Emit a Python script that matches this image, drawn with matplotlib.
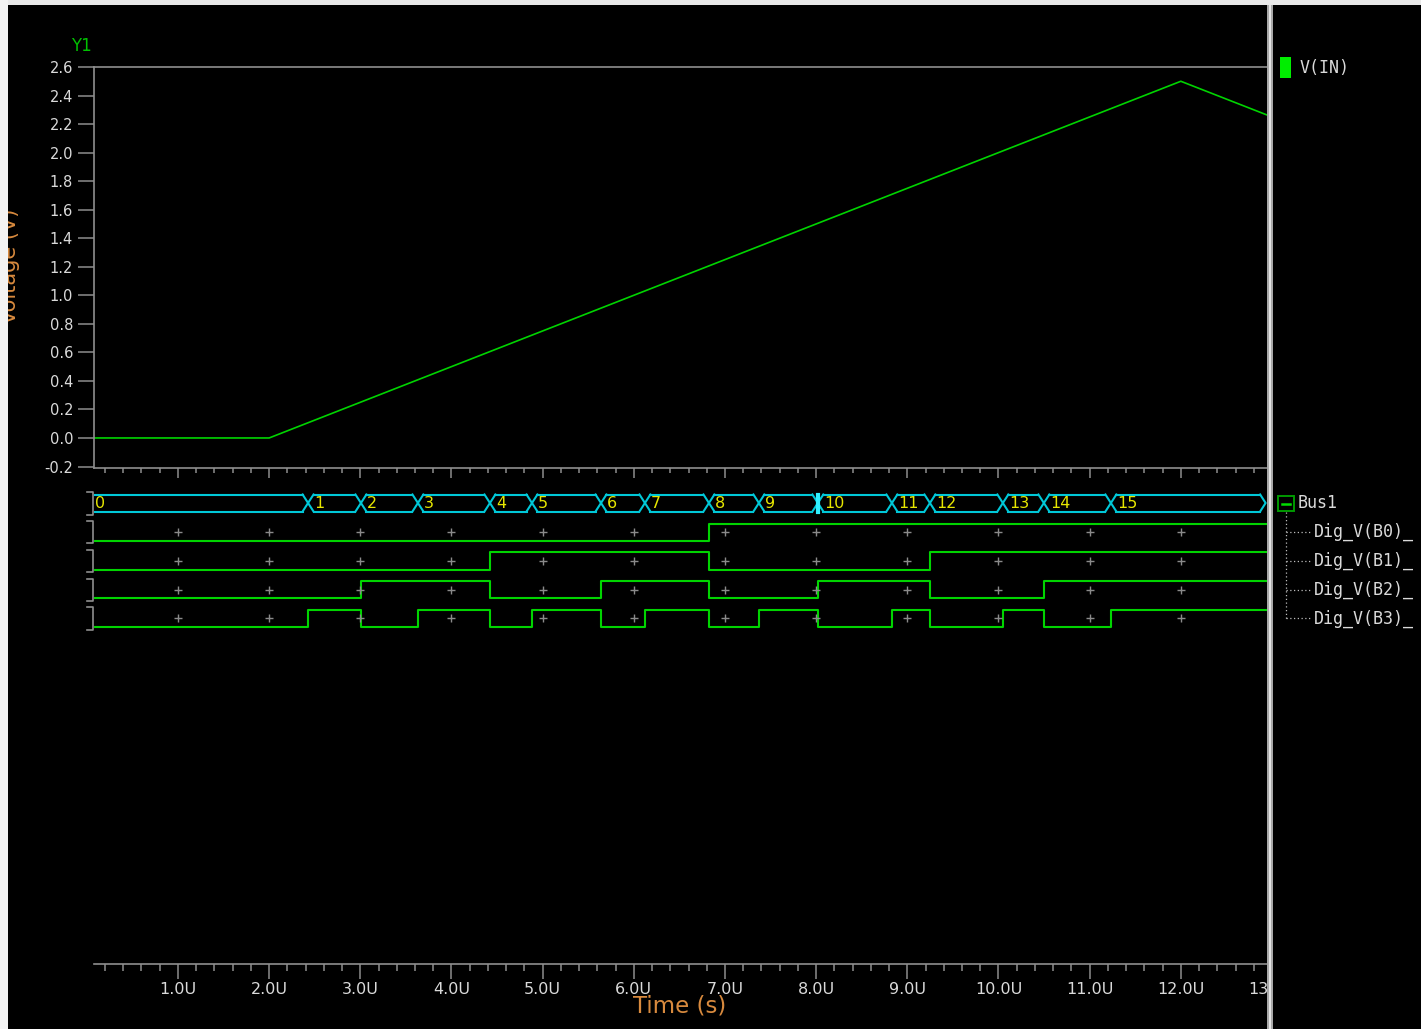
import numpy as np
import matplotlib.pyplot as plt
from matplotlib.patches import Rectangle
from matplotlib.lines import Line2D
from matplotlib.ticker import MultipleLocator, FormatStrFormatter

plt.rcParams['axes.unicode_minus'] = False

W, H = 1421, 1029

# V(IN): triangle ramp, corner points (time in us, volts)
vin_t = [0.0, 2.0, 12.0, 13.0]
vin_v = [0.0, 0.0, 2.5, 2.25]

# Bus1 output codes and the time (us) each one starts
bus_codes = [0, 1, 2, 3, 4, 5, 6, 7, 8, 9, 10, 11, 12, 13, 14, 15]
bus_times = [0.0, 2.427, 3.007, 3.632, 4.422, 4.883, 5.640, 6.122,
             6.824, 7.372, 8.019, 8.831, 9.248, 10.048, 10.498, 11.233]
bus_end = 12.93
cursor_t = 8.019

bit_names = ['Dig_V(B0)_', 'Dig_V(B1)_', 'Dig_V(B2)_', 'Dig_V(B3)_']
bit_weights = [8, 4, 2, 1]

x_major = np.arange(1, 14)
y_ticks = np.round(np.linspace(-0.2, 2.6, 15), 1) + 0.0

GREEN = '#00d400'
CYAN = '#00c8d8'
YELLOW = '#e6e600'
ORANGE = '#d88a3e'
AXCOL = '#8e8e8e'
TXT = '#dadada'


def fx(px):
    return px / W


def fy(py):
    return 1 - py / H


fig = plt.figure(figsize=(W / 100, H / 100), dpi=100, facecolor='#efefef')

# black canvas
fig.patches.append(Rectangle((fx(8), 0), 1 - fx(8), fy(5), transform=fig.transFigure,
                             facecolor='black', edgecolor='none', zorder=-5))

# ---------- analog pane ----------
ax1 = fig.add_axes([fx(94), fy(467.5), fx(1272) - fx(94), fy(67) - fy(467.5)])
ax1.set_facecolor('none')
ax1.plot(vin_t, vin_v, color=GREEN, lw=1.2)
ax1.set_xlim(0.079, 13.0)
ax1.set_ylim(-0.207, 2.6)
ax1.set_yticks(y_ticks)
ax1.yaxis.set_major_formatter(FormatStrFormatter('%.1f'))
ax1.xaxis.set_major_locator(MultipleLocator(1.0))
ax1.xaxis.set_minor_locator(MultipleLocator(0.2))
for s in ['top', 'left', 'bottom']:
    ax1.spines[s].set_color(AXCOL)
    ax1.spines[s].set_linewidth(1.2)
ax1.spines['right'].set_visible(False)
ax1.tick_params(axis='y', length=11.5, width=1.1, color=AXCOL, pad=3.5,
                labelsize=10.5, labelcolor=TXT)
ax1.tick_params(axis='x', which='major', length=7, width=1.1, color=AXCOL,
                labelbottom=False)
ax1.tick_params(axis='x', which='minor', length=3.6, width=1.1, color=AXCOL)

# ---------- digital pane ----------
ax2 = fig.add_axes([fx(94), fy(964), fx(1272) - fx(94), fy(480) - fy(964)])
ax2.set_facecolor('none')
ax2.set_xlim(0.079, 13.0)
ax2.set_ylim(964, 480)
for s in ['top', 'left', 'right']:
    ax2.spines[s].set_visible(False)
ax2.spines['bottom'].set_color(AXCOL)
ax2.spines['bottom'].set_linewidth(1.2)
ax2.set_yticks([])
ax2.xaxis.set_major_locator(MultipleLocator(1.0))
ax2.xaxis.set_minor_locator(MultipleLocator(0.2))
ax2.xaxis.set_major_formatter(FormatStrFormatter('%.1fU'))
ax2.tick_params(axis='x', which='major', length=10.8, width=1.1, color=AXCOL,
                pad=2.2, labelsize=11.5, labelcolor=TXT)
ax2.tick_params(axis='x', which='minor', length=5, width=1.1, color=AXCOL)

# bus hexagon trace
d = 0.06
b_top, b_bot, b_mid = 494.5, 511.5, 503.0
edges = bus_times[1:]
starts = [0.0] + [t + d for t in edges]
ends = [t - d for t in edges] + [bus_end - d]
for s, e in zip(starts, ends):
    ax2.plot([s, e], [b_top, b_top], color=CYAN, lw=1.5)
    ax2.plot([s, e], [b_bot, b_bot], color=CYAN, lw=1.5)
for t in edges:
    ax2.plot([t - d, t + d], [b_top, b_bot], color=CYAN, lw=1.5)
    ax2.plot([t - d, t + d], [b_bot, b_top], color=CYAN, lw=1.5)
ax2.plot([bus_end - d, bus_end, bus_end - d], [b_top, b_mid, b_bot], color=CYAN, lw=1.5)
ax2.plot([cursor_t, cursor_t], [b_top, b_bot], color='#30f0ff', lw=3)

for i, (code, t) in enumerate(zip(bus_codes, bus_times)):
    x0 = 0.092 if i == 0 else t + d + 0.005
    ax2.text(x0, b_mid + 0.5, str(code), color=YELLOW, fontsize=11.5,
             ha='left', va='center')

# bracket for the bus row
bx0, bx1 = 0.002, 0.068
ax2.plot([bx0, bx1, bx1, bx0], [b_top - 2.5, b_top - 2.5, b_bot + 3.5, b_bot + 3.5],
         color=AXCOL, lw=1.2, clip_on=False)

# individual bits
pitch = 28.7
t_steps = bus_times + [13.0]
for i, w in enumerate(bit_weights):
    y_hi = 523.6 + pitch * i
    y_lo = 540.9 + pitch * i
    vals = [y_hi if (c & w) else y_lo for c in bus_codes]
    vals = vals + [vals[-1]]
    ax2.step(t_steps, vals, where='post', color=GREEN, lw=1.5)
    y_c = (y_hi + y_lo) / 2
    ax2.plot(x_major, [y_c] * len(x_major), ls='none', marker='+',
             ms=5.5, mew=1, color='#8a8a8a')
    ax2.plot([bx0, bx1, bx1, bx0], [y_hi - 2.5, y_hi - 2.5, y_lo + 2.5, y_lo + 2.5],
             color=AXCOL, lw=1.2, clip_on=False)

# ---------- labels ----------
fig.text(fx(81), fy(46), 'Y1', color='#00c000', fontsize=12, ha='center', va='center')
fig.text(fx(10), fy(266), 'Voltage (V)', color=ORANGE, fontsize=15, rotation=90,
         ha='center', va='center')
fig.text(fx(680), fy(1006), 'Time (s)', color=ORANGE, fontsize=16.5,
         ha='center', va='center', zorder=7)

# ---------- right-hand legend pane ----------
fig.patches.append(Rectangle((fx(1273), 0), 1 - fx(1273), fy(5), transform=fig.transFigure,
                             facecolor='black', edgecolor='none', zorder=5))
fig.patches.append(Rectangle((fx(1267), 0), 6 / W, fy(5), transform=fig.transFigure,
                             facecolor='#a8a8a8', edgecolor='none', zorder=6))
fig.patches.append(Rectangle((fx(1268.8), 0), 2.4 / W, fy(5), transform=fig.transFigure,
                             facecolor='#e4e4e4', edgecolor='none', zorder=6))

fig.patches.append(Rectangle((fx(1280), fy(78)), 11 / W, 21 / H, transform=fig.transFigure,
                             facecolor='#00ee00', edgecolor='none', zorder=7))
mono = dict(family='DejaVu Sans Mono', fontsize=12, color=TXT, ha='left', va='center', zorder=7)
fig.text(fx(1300), fy(68), 'V(IN)', **mono)

fig.patches.append(Rectangle((fx(1277.5), fy(511)), 16.5 / W, 15 / H, transform=fig.transFigure,
                             facecolor='none', edgecolor='#009a00', lw=1.4, zorder=7))
fig.lines.append(Line2D([fx(1281.5), fx(1290)], [fy(503.5)] * 2, transform=fig.transFigure,
                        color='#00dd00', lw=1.8, zorder=7))
fig.text(fx(1298), fy(503.5), 'Bus1', **mono)

fig.lines.append(Line2D([fx(1285.5)] * 2, [fy(512), fy(618.5)], transform=fig.transFigure,
                        color='#bcbcbc', lw=0.9, ls=(0, (1, 2)), zorder=7))
for i, name in enumerate(bit_names):
    yy = 532.3 + pitch * i
    fig.lines.append(Line2D([fx(1286), fx(1311)], [fy(yy)] * 2, transform=fig.transFigure,
                            color='#bcbcbc', lw=0.9, ls=(0, (1, 2)), zorder=7))
    fig.text(fx(1314), fy(yy), name, **mono)

# light window border (top and left)
fig.patches.append(Rectangle((0, fy(5)), 1, 5 / H, transform=fig.transFigure,
                             facecolor='#e9e9e9', edgecolor='none', zorder=10))
fig.patches.append(Rectangle((0, 0), fx(8), 1, transform=fig.transFigure,
                             facecolor='#f3f3f3', edgecolor='none', zorder=10))

fig.savefig('out.png', dpi=100, facecolor=fig.get_facecolor())
